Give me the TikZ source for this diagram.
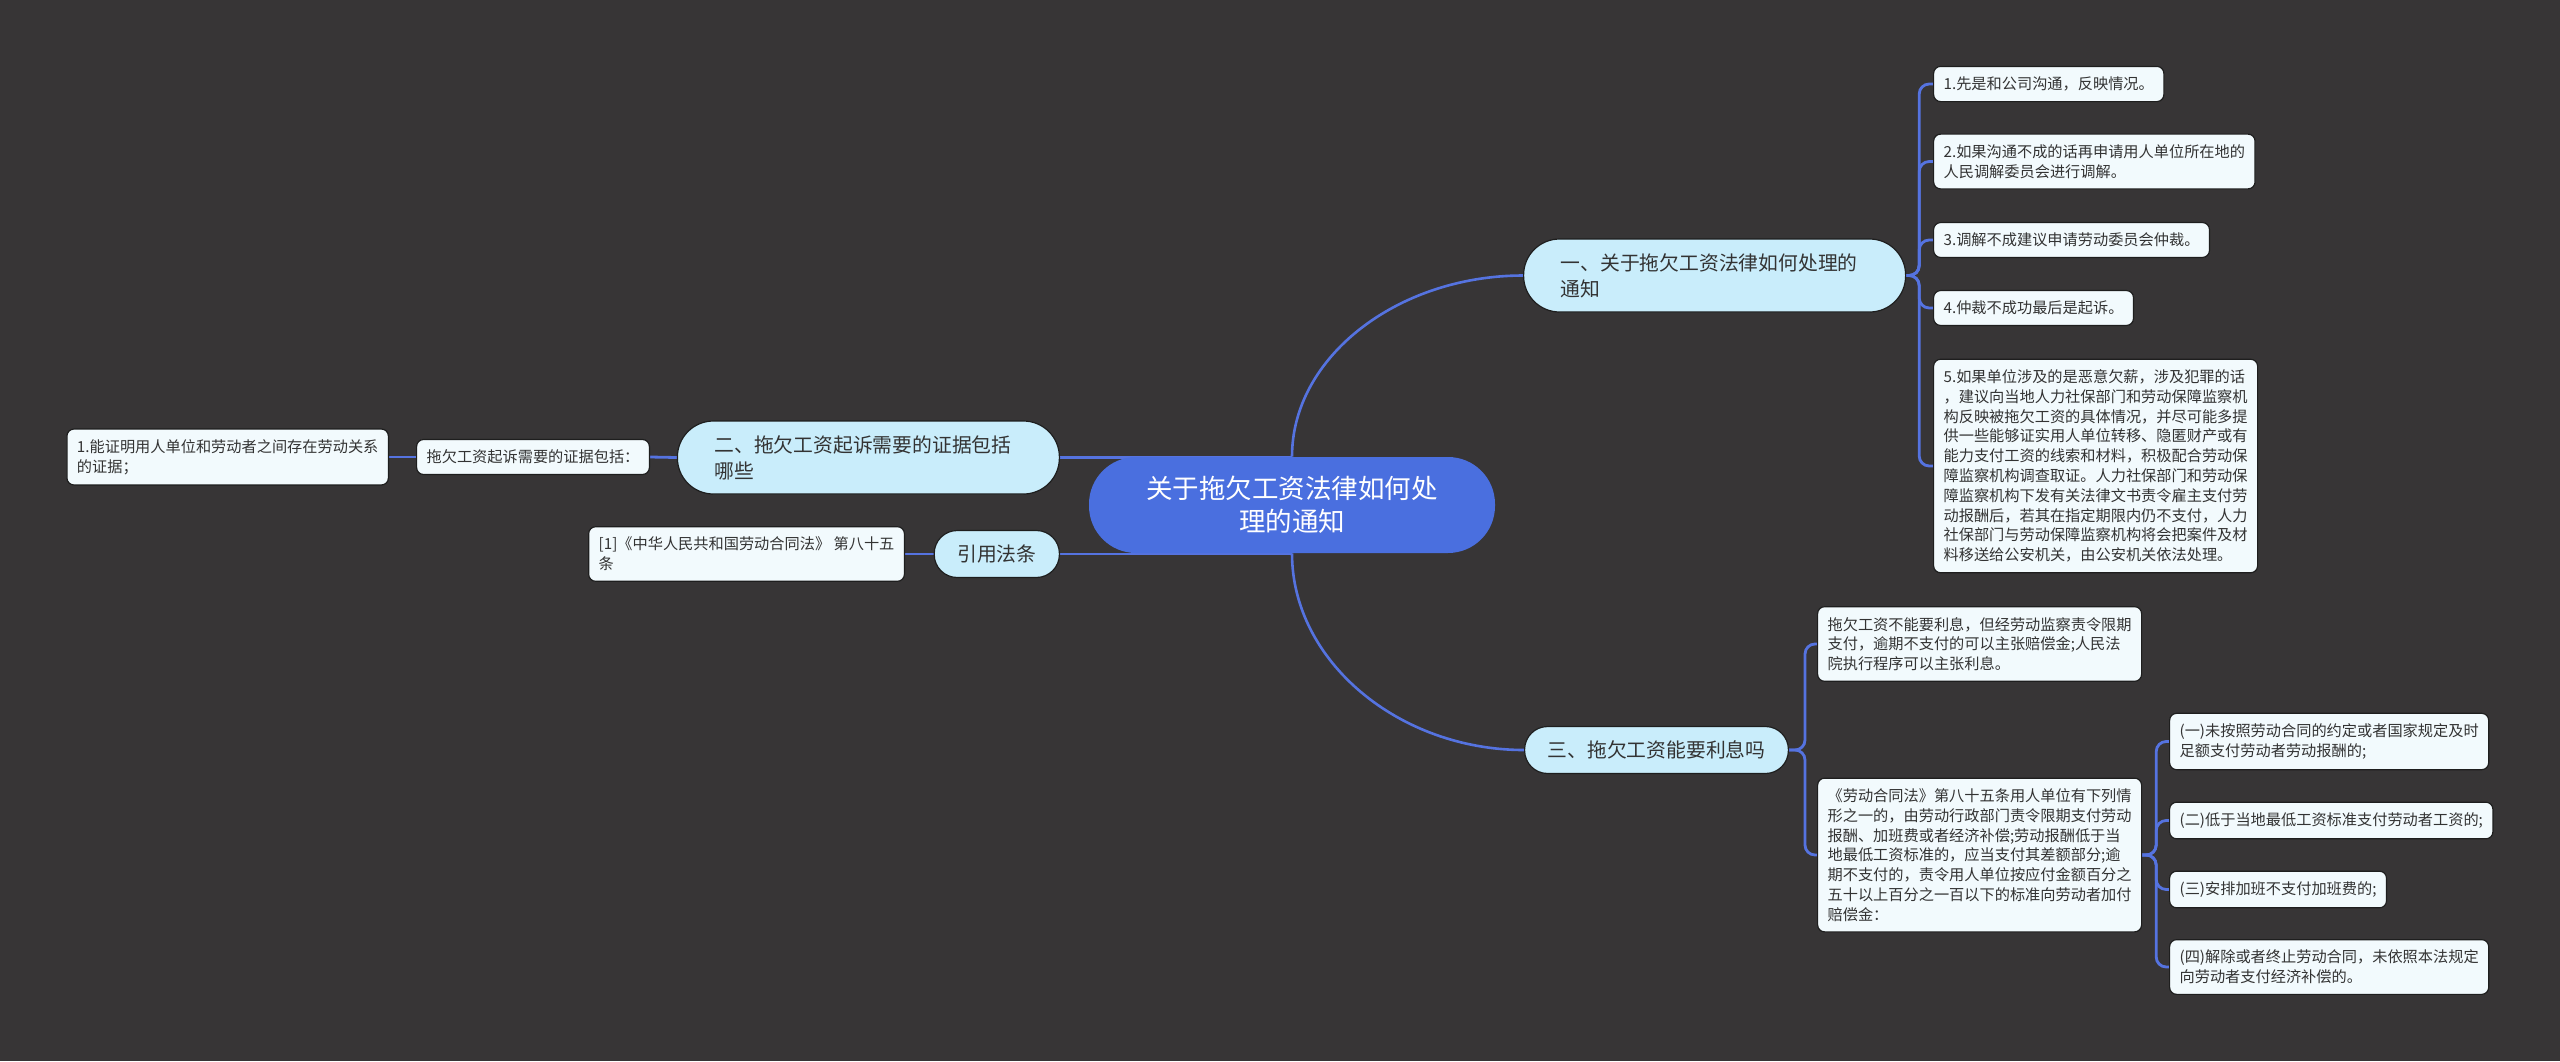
\documentclass[tikz,border=0pt]{standalone}
\usepackage{fontspec}
\setmainfont{Noto Sans CJK SC}
\usepackage{tikz}
\usetikzlibrary{positioning, calc, backgrounds}
\definecolor{cBg}    {HTML}{373536}
\definecolor{cRoot}  {HTML}{4A6FDF}
\definecolor{cBranch}{HTML}{C9EDFB}
\definecolor{cLeaf}  {HTML}{F2FAFD}
\definecolor{cLink}  {HTML}{5573E0}
\definecolor{cText}  {HTML}{333333}
\definecolor{cEdge}  {HTML}{1E1E1E}

\tikzset{
  rootbox/.style={fill=cRoot, text=white, rounded corners=23.5pt,
    minimum width=203pt, minimum height=48pt, inner sep=0pt, align=center,
    font=\fontsize{13.25pt}{16.5pt}\selectfont},
  branchbox/.style={fill=cBranch, draw=cEdge, line width=0.6pt, text=cText,
    align=left, inner xsep=18.5pt, inner ysep=6.8pt,
    font=\fontsize{9.9pt}{13pt}\selectfont},
  pill/.style={rounded corners=#1, minimum height=2*#1+0.5pt},
  leafbox/.style={fill=cLeaf, draw=cEdge, line width=0.6pt, text=cText,
    rounded corners=3.5pt, align=left, inner xsep=5pt, inner ysep=5.2pt,
    font=\fontsize{7.6pt}{9.9pt}\selectfont},
  rootlink/.style={draw=cLink, line width=1.3pt},
  leaflink/.style={draw=cLink, line width=1.4pt, rounded corners=5pt},
}

\begin{document}
\begin{tikzpicture}[x=0.5pt, y=-0.5pt]
  \useasboundingbox (0,0) rectangle (2560,1061);
  \begin{scope}[on background layer]
    \fill[cBg] (0,0) rectangle (2560,1061);
  \end{scope}

  % root and main branches
  \node[rootbox] (root) at (1292,505) {关于拖欠工资法律如何处\\理的通知};
  \node[branchbox, pill=18pt, text width=154pt, anchor=west] (b1) at (1523,275.5)
        {一、关于拖欠工资法律如何处理的\\通知};
  \node[branchbox, pill=18pt, text width=154pt, anchor=east] (b2) at (1060,457.5)
        {二、拖欠工资起诉需要的证据包括\\哪些};
  \node[branchbox, pill=11.5pt, inner xsep=11.5pt, anchor=west] (b3) at (1524,750)
        {三、拖欠工资能要利息吗};
  \node[branchbox, pill=11.5pt, inner xsep=11.5pt, anchor=east] (b4) at (1060,554)
        {引用法条};

  % branch one: steps
  \node[leafbox, anchor=west] (l11) at (1933,84) {1.先是和公司沟通，反映情况。};
  \node[leafbox, anchor=west] (l12) at (1933,161.5)
        {2.如果沟通不成的话再申请用人单位所在地的\\人民调解委员会进行调解。};
  \node[leafbox, anchor=west] (l13) at (1933,240) {3.调解不成建议申请劳动委员会仲裁。};
  \node[leafbox, anchor=west] (l14) at (1933,308) {4.仲裁不成功最后是起诉。};
  \node[leafbox, anchor=west] (l15) at (1933,466)
        {5.如果单位涉及的是恶意欠薪，涉及犯罪的话\\，建议向当地人力社保部门和劳动保障监察机\\构反映被拖欠工资的具体情况，并尽可能多提\\供一些能够证实用人单位转移、隐匿财产或有\\能力支付工资的线索和材料，积极配合劳动保\\障监察机构调查取证。人力社保部门和劳动保\\障监察机构下发有关法律文书责令雇主支付劳\\动报酬后，若其在指定期限内仍不支付，人力\\社保部门与劳动保障监察机构将会把案件及材\\料移送给公安机关，由公安机关依法处理。};

  % branch two: evidence
  \node[leafbox, anchor=east] (l21) at (650,457) {拖欠工资起诉需要的证据包括：};
  \node[leafbox, anchor=east] (l211) at (389,457)
        {1.能证明用人单位和劳动者之间存在劳动关系\\的证据；};

  % branch three: interest
  \node[leafbox, anchor=west] (l31) at (1817,644)
        {拖欠工资不能要利息，但经劳动监察责令限期\\支付，逾期不支付的可以主张赔偿金;人民法\\院执行程序可以主张利息。};
  \node[leafbox, anchor=west] (l32) at (1817,855)
        {《劳动合同法》第八十五条用人单位有下列情\\形之一的，由劳动行政部门责令限期支付劳动\\报酬、加班费或者经济补偿;劳动报酬低于当\\地最低工资标准的，应当支付其差额部分;逾\\期不支付的，责令用人单位按应付金额百分之\\五十以上百分之一百以下的标准向劳动者加付\\赔偿金：};
  \node[leafbox, anchor=west] (l321) at (2169,741.5)
        {(一)未按照劳动合同的约定或者国家规定及时\\足额支付劳动者劳动报酬的;};
  \node[leafbox, anchor=west] (l322) at (2169,820.5) {(二)低于当地最低工资标准支付劳动者工资的;};
  \node[leafbox, anchor=west] (l323) at (2169,889.5) {(三)安排加班不支付加班费的;};
  \node[leafbox, anchor=west] (l324) at (2169,967)
        {(四)解除或者终止劳动合同，未依照本法规定\\向劳动者支付经济补偿的。};

  % branch four: cited law
  \node[leafbox, anchor=east] (l41) at (905,554)
        {[1]《中华人民共和国劳动合同法》 第八十五\\条};

  % connectors
  \begin{scope}[on background layer]
    \draw[rootlink] (root.north) .. controls +(0,-100) and +(-125,0) .. (b1.west);
    \draw[rootlink] (root.south) .. controls +(0,108) and +(-125,0) .. (b3.west);
    \draw[rootlink] (b2.east) -- (b2.east -| root.center);
    \draw[rootlink] (b4.east) -- (b4.east -| root.center);
    \foreach \l in {l11,l12,l13,l14,l15}
      \draw[leaflink] (b1.east) -- ++(13,0) |- (\l.west);
    \draw[leaflink] (b2.west) -- (l21.east);
    \draw[leaflink] (l21.west) -- (l211.east);
    \foreach \l in {l31,l32}
      \draw[leaflink] (b3.east) -- ++(16,0) |- (\l.west);
    \foreach \l in {l321,l322,l323,l324}
      \draw[leaflink] (l32.east) -- ++(14,0) |- (\l.west);
    \draw[leaflink] (b4.west) -- (l41.east);
  \end{scope}
\end{tikzpicture}
\end{document}
